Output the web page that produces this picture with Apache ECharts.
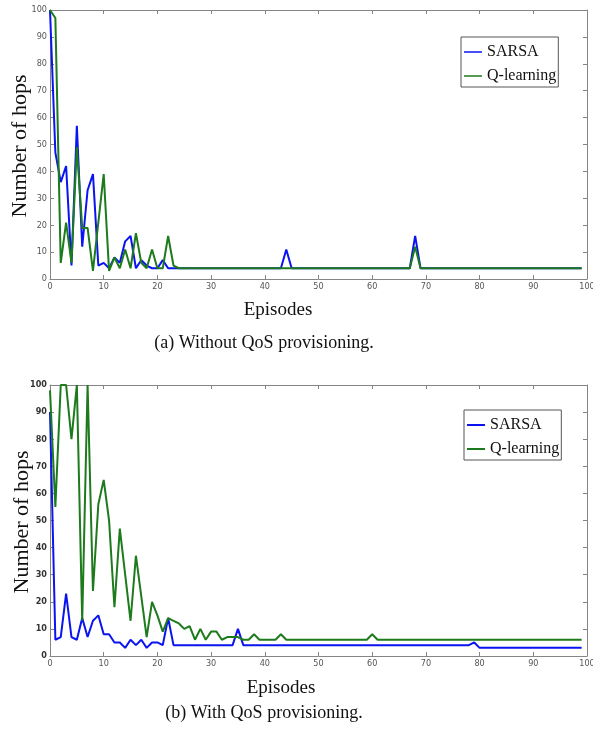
<!DOCTYPE html>
<html lang="en">
<head>
    <meta charset="UTF-8">
    <title>Number of hops vs episodes</title>
    <script src="https://cdn.jsdelivr.net/npm/echarts@6/dist/echarts.min.js"></script>
    <style>
        html,body{margin:0;padding:0;background:#fff;}
    </style>
</head>
<body>
    <div id="main" style="width:593px;height:734px;"></div>
    <script type="text/javascript">
        // (a) without QoS provisioning, episodes 0..99
        var sarsaA = [
            100,47,36,42,5,57,12,33,39,5,
            6,4,8,6,14,16,4,7,5,4,
            4,7,4,4,4,4,4,4,4,4,
            4,4,4,4,4,4,4,4,4,4,
            4,4,4,4,11,4,4,4,4,4,
            4,4,4,4,4,4,4,4,4,4,
            4,4,4,4,4,4,4,4,16,4,
            4,4,4,4,4,4,4,4,4,4,
            4,4,4,4,4,4,4,4,4,4,
            4,4,4,4,4,4,4,4,4,4
        ];
        var qlearnA = [
            100,97,6,21,6,49,19,19,3,21,
            39,3,8,4,11,4,17,6,4,11,
            4,4,16,5,4,4,4,4,4,4,
            4,4,4,4,4,4,4,4,4,4,
            4,4,4,4,4,4,4,4,4,4,
            4,4,4,4,4,4,4,4,4,4,
            4,4,4,4,4,4,4,4,12,4,
            4,4,4,4,4,4,4,4,4,4,
            4,4,4,4,4,4,4,4,4,4,
            4,4,4,4,4,4,4,4,4,4
        ];
        // (b) with QoS provisioning
        var sarsaB = [
            90,6,7,23,7,6,14,7,13,15,
            8,8,5,5,3,6,4,6,3,5,
            5,4,14,4,4,4,4,4,4,4,
            4,4,4,4,4,10,4,4,4,4,
            4,4,4,4,4,4,4,4,4,4,
            4,4,4,4,4,4,4,4,4,4,
            4,4,4,4,4,4,4,4,4,4,
            4,4,4,4,4,4,4,4,4,5,
            3,3,3,3,3,3,3,3,3,3,
            3,3,3,3,3,3,3,3,3,3
        ];
        var qlearnB = [
            98,55,100,100,80,100,13,100,24,56,
            65,50,18,47,30,13,37,22,7,20,
            15,9,14,13,12,10,11,6,10,6,
            9,9,6,7,7,7,6,6,8,6,
            6,6,6,8,6,6,6,6,6,6,
            6,6,6,6,6,6,6,6,6,6,
            8,6,6,6,6,6,6,6,6,6,
            6,6,6,6,6,6,6,6,6,6,
            6,6,6,6,6,6,6,6,6,6,
            6,6,6,6,6,6,6,6,6,6
        ];
        var seriesNames = ['SARSA', 'Q-learning'];
        var captions = ['(a) Without QoS provisioning.', '(b) With QoS provisioning.'];
        var xTitle = 'Episodes';
        var yTitle = 'Number of hops';

        var blue = '#0a14f0';
        var green = '#1d7a1d';
        var frame = '#858585';
        var serif = '"Liberation Serif","Times New Roman",serif';
        var narrow = '"Liberation Sans Narrow","DejaVu Sans Condensed",sans-serif';

        function pairs(arr){
            var out = [];
            for (var i = 0; i < arr.length; i++) out.push([i, arr[i]]);
            return out;
        }

        function xAx(grid, pos, labels){
            return {
                gridIndex: grid, type: 'value', position: pos,
                min: 0, max: 100, interval: 10,
                axisLine: {show: true, onZero: false, lineStyle: {color: frame, width: 1}},
                axisTick: {show: true, inside: true, length: 4, lineStyle: {color: frame}},
                axisLabel: {show: labels, margin: 3, fontFamily: narrow, fontSize: 9, color: '#555'},
                splitLine: {show: false}
            };
        }
        function yAx(grid, pos, labels, bold){
            return {
                gridIndex: grid, type: 'value', position: pos,
                min: 0, max: 100, interval: 10,
                axisLine: {show: true, onZero: false, lineStyle: {color: frame, width: 1}},
                axisTick: {show: true, inside: true, length: 4, lineStyle: {color: frame}},
                axisLabel: {show: labels, margin: 3, fontFamily: narrow, fontSize: 9,
                    color: bold ? '#333' : '#555', fontWeight: bold ? 'bold' : 'normal'},
                splitLine: {show: false}
            };
        }
        function lineSeries(name, data, color, xi, yi, z){
            return {
                name: name, type: 'line', data: pairs(data),
                xAxisIndex: xi, yAxisIndex: yi,
                symbol: 'none', smooth: false, z: z,
                lineStyle: {color: color, width: 2},
                itemStyle: {color: color},
                emphasis: {disabled: true}
            };
        }
        function legendAt(left, top, iconH){
            return {
                data: seriesNames, orient: 'vertical', left: left, top: top,
                icon: 'rect', itemWidth: 18, itemHeight: iconH, itemGap: 8,
                padding: [7, 2, 3, 3],
                borderColor: '#555', borderWidth: 1, backgroundColor: '#fff',
                selectedMode: false,
                textStyle: {fontFamily: serif, fontSize: 16, color: '#111'}
            };
        }
        function label(text, x, y, size, rot){
            return {
                type: 'text', x: x, y: y, rotation: rot || 0, silent: true,
                style: {text: text, align: 'center', verticalAlign: 'middle',
                    textAlign: 'center', textVerticalAlign: 'middle',
                    font: size + 'px ' + serif, fill: '#111'}
            };
        }

        var chart = echarts.init(document.getElementById('main'), null, {renderer: 'canvas'});
        var option = {
            animation: false,
            backgroundColor: '#fff',
            grid: [
                {left: 50, right: 6, top: 10, height: 269, outerBoundsMode: 'none', containLabel: false},
                {left: 50, right: 6, top: 385, height: 271, outerBoundsMode: 'none', containLabel: false}
            ],
            xAxis: [xAx(0, 'bottom', true), xAx(0, 'top', false), xAx(1, 'bottom', true), xAx(1, 'top', false)],
            yAxis: [yAx(0, 'left', true, false), yAx(0, 'right', false, false), yAx(1, 'left', true, true), yAx(1, 'right', false, false)],
            legend: [legendAt(461, 37, 1.5), legendAt(464, 410, 2)],
            series: [
                lineSeries(seriesNames[0], sarsaA, blue, 0, 0, 2),
                lineSeries(seriesNames[1], qlearnA, green, 0, 0, 3),
                lineSeries(seriesNames[0], sarsaB, blue, 2, 2, 2),
                lineSeries(seriesNames[1], qlearnB, green, 2, 2, 3)
            ],
            graphic: [
                label(yTitle, 20, 146, 22, Math.PI / 2),
                label(xTitle, 278, 310, 19),
                label(captions[0], 264, 343, 18),
                label(yTitle, 22, 522, 22, Math.PI / 2),
                label(xTitle, 281, 688, 19),
                label(captions[1], 264, 713, 18)
            ]
        };
        chart.setOption(option);
    </script>
</body>
</html>
